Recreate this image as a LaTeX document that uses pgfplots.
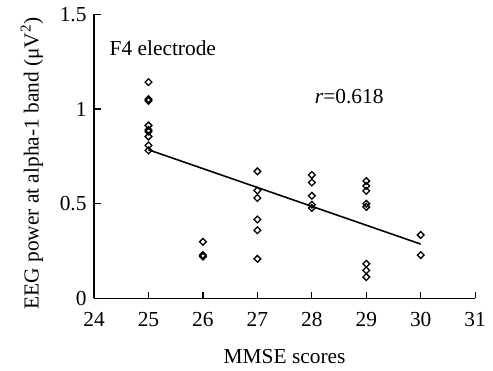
\documentclass[border=0pt]{standalone}
\usepackage{pgfplots}
\pgfplotsset{compat=1.18}
\usetikzlibrary{calc}
\usepackage{fontspec}
\setmainfont{Liberation Serif}
\begin{document}
\fontsize{10.8}{13}\selectfont
\begin{tikzpicture}
\begin{axis}[
  scale only axis,
  width=192.5pt, height=143.5pt,
  xmin=24, xmax=31, ymin=0, ymax=1.5,
  axis x line=bottom, axis y line=left,
  axis line style={-, line width=0.65pt},
  xtick={24,...,31}, ytick={0,0.5,1,1.5},
  yticklabels={0,0.5,1,1.5},
  tick align=inside,
  major tick length=3.5pt,
  tick style={line width=0.65pt, black},
  /pgf/number format/assume math mode=true,
  tick label style={font=\fontsize{10.8}{13}\selectfont},
  xticklabel style={yshift=-3pt},
  yticklabel style={xshift=0pt},
  xlabel={MMSE scores},
  ylabel={EEG power at alpha-1 band (μV\textsuperscript{2})},
  xlabel style={font=\fontsize{10.8}{13}\selectfont, yshift=-4pt},
  ylabel style={font=\fontsize{10.8}{13}\selectfont, yshift=1pt, xshift=-3.5pt},
  clip=false,
]
\addplot[only marks, mark=square, mark size=1.2pt, mark options={rotate=45, line width=0.65pt, fill=white, draw=black}] coordinates {
(25,1.142) (25,1.052) (25,1.043) (25,0.913) (25,0.89) (25,0.881) (25,0.855) (25,0.808) (25,0.782)
(26,0.299) (26,0.229) (26,0.221)
(27,0.671) (27,0.570) (27,0.530) (27,0.417) (27,0.360) (27,0.209)
(28,0.652) (28,0.612) (28,0.542) (28,0.495) (28,0.478)
(29,0.620) (29,0.594) (29,0.568) (29,0.500) (29,0.483) (29,0.183) (29,0.148) (29,0.113)
(30,0.335) (30,0.229)
};
\addplot[black, line width=0.8pt, no marks] coordinates {(25,0.785) (30,0.287)};
\node[anchor=west, inner sep=0pt] at (axis cs:24.28,1.321) {F4 electrode};
\node[anchor=west, inner sep=0pt] at (axis cs:28.05,1.065) {\textit{r}=0.618};
\end{axis}
\path ($(current axis.south west)+(-47.5pt,-34pt)$) rectangle ($(current axis.north east)+(6.5pt,7pt)$);
\end{tikzpicture}
\end{document}
